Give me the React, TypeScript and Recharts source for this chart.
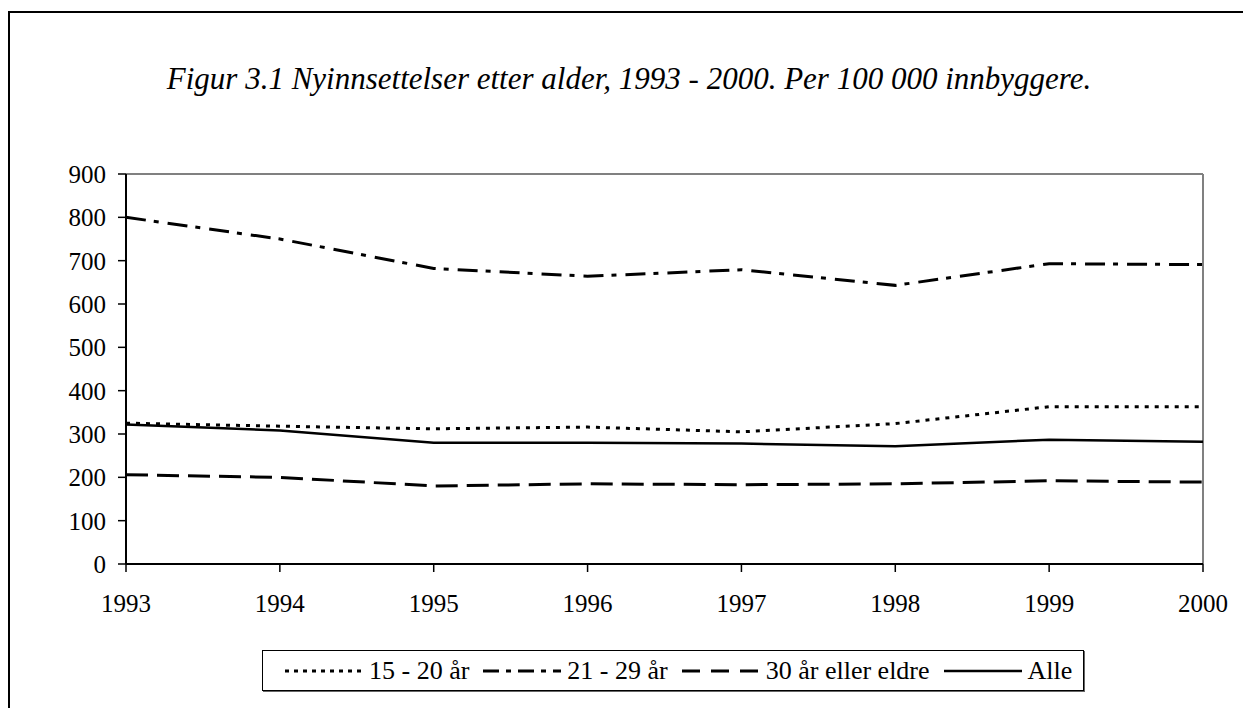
import React from 'react'
import { LineChart, Line, XAxis, YAxis, ReferenceLine } from 'recharts'

const years = [1993, 1994, 1995, 1996, 1997, 1998, 1999, 2000]
const age15to20 = [325, 318, 312, 316, 305, 324, 363, 363]
const age21to29 = [800, 750, 682, 664, 679, 643, 693, 691]
const age30plus = [206, 200, 180, 185, 183, 185, 192, 189]
const alle = [322, 308, 280, 280, 278, 272, 287, 282]
const yTicks = [0, 100, 200, 300, 400, 500, 600, 700, 800, 900]

const series = [
  { key: 'a', name: '15 - 20 år', dash: '4 6', legendDash: '4 5', width: 3 },
  { key: 'b', name: '21 - 29 år', dash: '20 8 5 9', legendDash: '16 7 5 7', width: 3 },
  { key: 'c', name: '30 år eller eldre', dash: '22 9', legendDash: '18 11', width: 3 },
  { key: 'd', name: 'Alle', dash: undefined, legendDash: undefined, width: 2.5 },
]

const data = years.map((year, i) => ({
  year,
  a: age15to20[i],
  b: age21to29[i],
  c: age30plus[i],
  d: alle[i],
}))

const serif = '"Liberation Serif", "Times New Roman", serif'
const tickStyle = { fill: '#000', fontSize: 25, fontFamily: serif }

export default function App() {
  return (
    <div style={{ position: 'relative', width: 1235, height: 700, fontFamily: serif }}>
      {/* outer frame, only top and left edges visible */}
      <div
        style={{
          position: 'absolute',
          left: 0,
          top: 3,
          width: 1233,
          height: 695,
          borderLeft: '2px solid #000',
          borderTop: '2px solid #000',
        }}
      />
      <div
        style={{
          position: 'absolute',
          left: 0,
          top: 55,
          width: 1242,
          textAlign: 'center',
          fontSize: 31,
          lineHeight: '31px',
          fontStyle: 'italic',
          whiteSpace: 'nowrap',
        }}
      >
        Figur 3.1 Nyinnsettelser etter alder, 1993 - 2000. Per 100 000 innbyggere.
      </div>
      <div style={{ position: 'absolute', left: 0, top: 0 }}>
        <LineChart width={1235} height={640} data={data} margin={{ top: 166, right: 40, bottom: 44, left: 58 }}>
          <XAxis
            dataKey="year"
            type="number"
            domain={[1993, 2000]}
            ticks={years}
            height={40}
            tick={tickStyle}
            tickSize={8}
            tickMargin={22}
            axisLine={{ stroke: '#000', strokeWidth: 2 }}
            tickLine={{ stroke: '#000', strokeWidth: 1.5 }}
          />
          <YAxis
            domain={[0, 900]}
            ticks={yTicks}
            width={60}
            tick={tickStyle}
            tickSize={8}
            tickMargin={12}
            axisLine={{ stroke: '#000', strokeWidth: 2 }}
            tickLine={{ stroke: '#000', strokeWidth: 1.5 }}
          />
          <ReferenceLine y={900} stroke="#808080" strokeWidth={2} />
          <ReferenceLine x={2000} stroke="#808080" strokeWidth={2} />
          {series.map(s => (
            <Line
              key={s.key}
              dataKey={s.key}
              name={s.name}
              type="linear"
              stroke="#000"
              strokeWidth={s.width}
              strokeDasharray={s.dash}
              dot={false}
              activeDot={false}
              isAnimationActive={false}
            />
          ))}
        </LineChart>
      </div>
      <div
        style={{
          position: 'absolute',
          left: 254,
          top: 642,
          width: 822,
          height: 41,
          boxSizing: 'border-box',
          border: '1px solid #000',
          boxShadow: '1px 1px 0 #666',
          display: 'flex',
          alignItems: 'center',
          paddingLeft: 22,
          fontSize: 26,
          whiteSpace: 'nowrap',
        }}
      >
        {series.map(s => (
          <div key={s.key} style={{ display: 'flex', alignItems: 'center', marginRight: 14 }}>
            <svg width={78} height={10} style={{ marginRight: 6 }}>
              <line x1={0} y1={5} x2={78} y2={5} stroke="#000" strokeWidth={s.width} strokeDasharray={s.legendDash} />
            </svg>
            <span>{s.name}</span>
          </div>
        ))}
      </div>
    </div>
  )
}
